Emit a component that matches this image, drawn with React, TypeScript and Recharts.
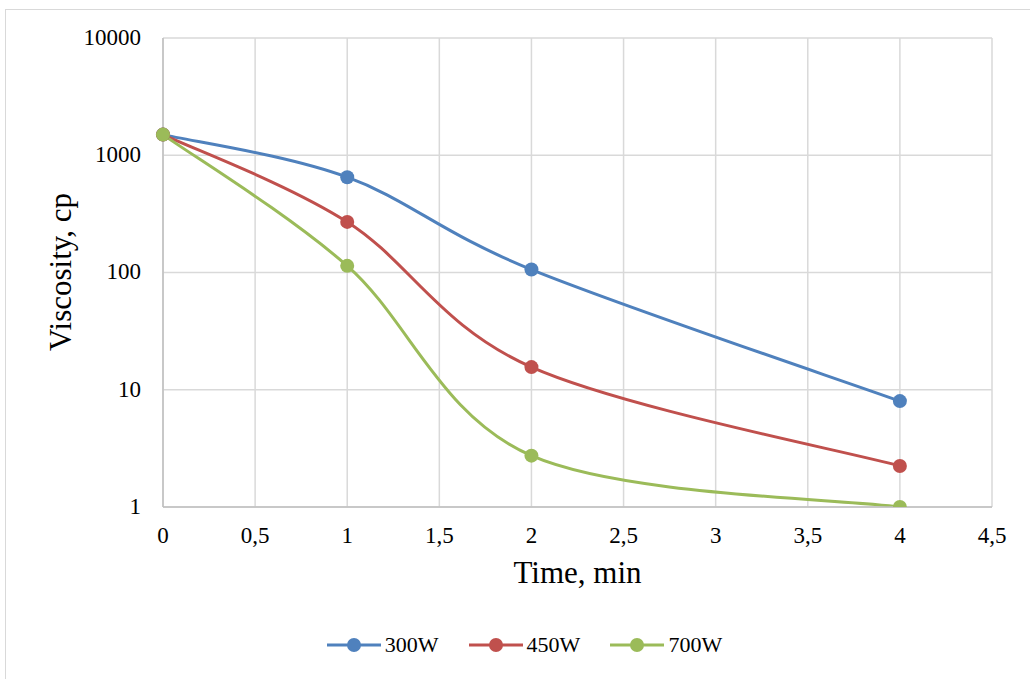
import React from 'react';
import { LineChart, Line, XAxis, YAxis, CartesianGrid, Legend } from 'recharts';

const times = [0, 1, 2, 4];
const visc300 = [1500, 650, 106, 8];
const visc450 = [1500, 270, 15.6, 2.24];
const visc700 = [1500, 114, 2.74, 1];
const xTicks = [0, 0.5, 1, 1.5, 2, 2.5, 3, 3.5, 4, 4.5];
const yTicks = [1, 10, 100, 1000, 10000];
const seriesKeys = ['s300', 's450', 's700'];
const seriesNames = ['300W', '450W', '700W'];
const colors = ['#4f81bd', '#c0504d', '#9bbb59'];

const data = times.map((t, i) => ({ t, s300: visc300[i], s450: visc450[i], s700: visc700[i] }));

const FONT = '"Liberation Serif", "Times New Roman", serif';

// Excel-like smoothed line (Catmull-Rom through the points)
const excelCurve: any = (context: any) => {
  let pts: number[][] = [];
  return {
    areaStart() {},
    areaEnd() {},
    lineStart() {
      pts = [];
    },
    point(x: number, y: number) {
      pts.push([+x, +y]);
    },
    lineEnd() {
      const n = pts.length;
      if (!n) return;
      context.moveTo(pts[0][0], pts[0][1]);
      for (let i = 0; i < n - 1; i++) {
        const p0 = pts[Math.max(i - 1, 0)];
        const p1 = pts[i];
        const p2 = pts[i + 1];
        const p3 = pts[Math.min(i + 2, n - 1)];
        context.bezierCurveTo(
          p1[0] + (p2[0] - p0[0]) / 6,
          p1[1] + (p2[1] - p0[1]) / 6,
          p2[0] - (p3[0] - p1[0]) / 6,
          p2[1] - (p3[1] - p1[1]) / 6,
          p2[0],
          p2[1]
        );
      }
    },
  };
};

const fmtX = (v: number) => String(v).replace('.', ',');

const XTick = (props: any) => {
  const { x, y, payload } = props;
  return (
    <text x={x} y={y} dy="0.71em" textAnchor="middle" fontFamily={FONT} fontSize={23} fill="#000">
      {fmtX(payload.value)}
    </text>
  );
};

const YTick = (props: any) => {
  const { x, y, payload } = props;
  return (
    <text x={x} y={y} dy="0.3em" textAnchor="end" fontFamily={FONT} fontSize={23} fill="#000">
      {String(payload.value)}
    </text>
  );
};

const LegendContent = () => (
  <div style={{ display: 'flex', justifyContent: 'center', alignItems: 'center', fontFamily: FONT, fontSize: 22, color: '#000' }}>
    {seriesNames.map((name, i) => (
      <div key={name} style={{ display: 'flex', alignItems: 'center', marginLeft: i ? 30 : 0 }}>
        <svg width={54} height={16} style={{ display: 'block' }}>
          <line x1={0} y1={8} x2={54} y2={8} stroke={colors[i]} strokeWidth={3} />
          <circle cx={27} cy={8} r={7} fill={colors[i]} />
        </svg>
        <span style={{ marginLeft: 4, lineHeight: '24px' }}>{name}</span>
      </div>
    ))}
  </div>
);

export default function App() {
  return (
    <div style={{ position: 'absolute', left: 0, top: 0, width: 1030, height: 679, overflow: 'hidden', background: '#fff', fontFamily: FONT }}>
      <div style={{ position: 'absolute', left: 5, top: 9, width: 1200, height: 900, border: '1.5px solid #d9d9d9', boxSizing: 'border-box' }} />
      <div style={{ position: 'absolute', left: 0, top: 0 }}>
        <LineChart width={1030} height={679} data={data} margin={{ top: 38, right: 38, left: 63, bottom: 72 }}>
          <CartesianGrid stroke="#d9d9d9" strokeWidth={1.5} />
          <XAxis
            dataKey="t"
            type="number"
            domain={[0, 4.5]}
            ticks={xTicks}
            height={100}
            axisLine={{ stroke: '#bfbfbf', strokeWidth: 1.5 }}
            tickLine={false}
            tickSize={8}
            tickMargin={12}
            tick={XTick}
            interval={0}
          />
          <YAxis
            type="number"
            scale="log"
            domain={[1, 10000]}
            ticks={yTicks}
            width={100}
            axisLine={{ stroke: '#bfbfbf', strokeWidth: 1.5 }}
            tickLine={false}
            tickSize={10}
            tickMargin={12}
            tick={YTick}
            interval={0}
            allowDataOverflow
          />
          <Legend
            verticalAlign="middle"
            align="center"
            layout="horizontal"
            content={LegendContent}
            wrapperStyle={{ left: 0, top: 633, width: 1049 }}
          />
          {seriesKeys.map((k, i) => (
            <Line
              key={k}
              dataKey={k}
              name={seriesNames[i]}
              type={excelCurve}
              stroke={colors[i]}
              strokeWidth={3}
              dot={{ r: 7, fill: colors[i], stroke: colors[i], strokeWidth: 0 }}
              activeDot={false}
              isAnimationActive={false}
            />
          ))}
        </LineChart>
      </div>
      <div style={{ position: 'absolute', left: 0, top: 555, width: 1155, textAlign: 'center', fontSize: 31, lineHeight: '36px', color: '#000' }}>
        Time, min
      </div>
      <div
        style={{
          position: 'absolute',
          left: 61 - 150,
          top: 272 - 18,
          width: 300,
          height: 36,
          textAlign: 'center',
          fontSize: 31,
          lineHeight: '36px',
          color: '#000',
          transform: 'rotate(-90deg)',
        }}
      >
        Viscosity, cp
      </div>
    </div>
  );
}
